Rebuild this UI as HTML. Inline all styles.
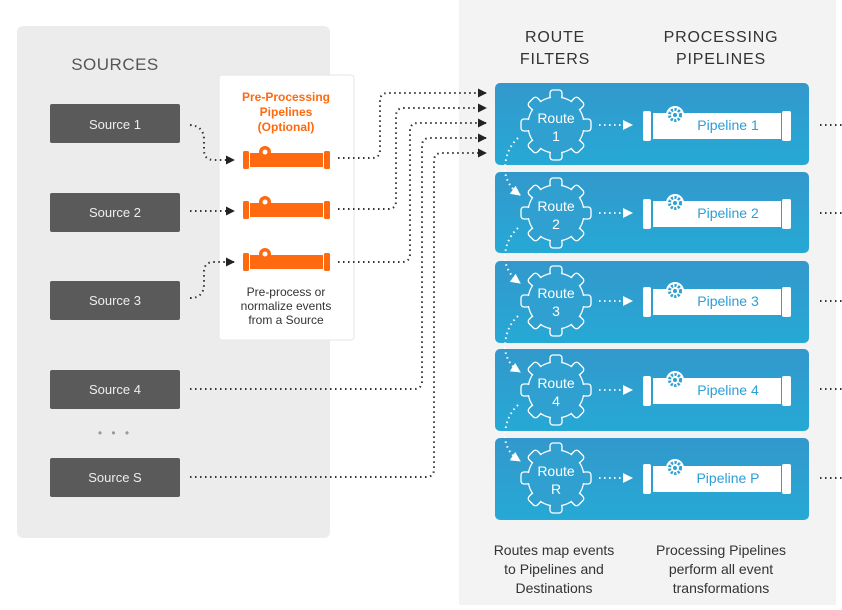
<!DOCTYPE html>
<html><head><meta charset="utf-8"><style>
html,body{margin:0;padding:0;background:#fff;}
body{width:842px;height:605px;overflow:hidden;position:relative;font-family:"Liberation Sans",sans-serif;}
</style></head><body>
<svg width="842" height="605" viewBox="0 0 842 605" xmlns="http://www.w3.org/2000/svg" font-family="Liberation Sans, sans-serif">
<defs>
<linearGradient id="bl" x1="0" y1="0" x2="0" y2="1"><stop offset="0" stop-color="#3398cc"/><stop offset="1" stop-color="#26a9d5"/></linearGradient>
<marker id="ab" viewBox="0 0 10 10" refX="9" refY="5" markerWidth="9" markerHeight="9" markerUnits="userSpaceOnUse" orient="auto"><path d="M0,0L10,5L0,10z" fill="#222"/></marker>
<marker id="aw" viewBox="0 0 10 10" refX="9" refY="5" markerWidth="10" markerHeight="10" markerUnits="userSpaceOnUse" orient="auto"><path d="M0,0L10,5L0,10z" fill="#fff"/></marker>
<g id="gear">
  <g fill="#2fa0d0" stroke="#fff" stroke-width="1.3">
    <rect x="-6" y="-35" width="12" height="12" rx="3"/>
    <rect x="-6" y="-35" width="12" height="12" rx="3" transform="rotate(45)"/>
    <rect x="-6" y="-35" width="12" height="12" rx="3" transform="rotate(90)"/>
    <rect x="-6" y="-35" width="12" height="12" rx="3" transform="rotate(135)"/>
    <rect x="-6" y="-35" width="12" height="12" rx="3" transform="rotate(180)"/>
    <rect x="-6" y="-35" width="12" height="12" rx="3" transform="rotate(225)"/>
    <rect x="-6" y="-35" width="12" height="12" rx="3" transform="rotate(270)"/>
    <rect x="-6" y="-35" width="12" height="12" rx="3" transform="rotate(315)"/>
  </g>
  <circle r="28" fill="#2fa0d0" stroke="#fff" stroke-width="1.3"/>
  <g fill="#2fa0d0"><rect x="-5" y="-30" width="10" height="6"/><rect x="-5" y="-30" width="10" height="6" transform="rotate(45)"/><rect x="-5" y="-30" width="10" height="6" transform="rotate(90)"/><rect x="-5" y="-30" width="10" height="6" transform="rotate(135)"/><rect x="-5" y="-30" width="10" height="6" transform="rotate(180)"/><rect x="-5" y="-30" width="10" height="6" transform="rotate(225)"/><rect x="-5" y="-30" width="10" height="6" transform="rotate(270)"/><rect x="-5" y="-30" width="10" height="6" transform="rotate(315)"/></g>
</g>
<g id="pipe">
  <rect x="643" y="-14" width="8" height="30" rx="2" fill="#fff"/>
  <rect x="782" y="-14" width="9" height="30" rx="2" fill="#fff"/>
  <rect x="653" y="-12" width="128" height="26" fill="#fff"/>
  <circle cx="675" cy="-10" r="9" fill="#fff"/>
  <circle cx="675" cy="-10" r="5.5" fill="none" stroke="#2fa0d0" stroke-width="3" stroke-dasharray="2.2 1.4"/>
  <circle cx="675" cy="-10" r="2" fill="#2fa0d0"/>
</g>
<g id="opipe">
  <rect x="243" y="-9" width="6" height="18" rx="1.5" fill="#ff6a10"/>
  <rect x="324" y="-9" width="6" height="18" rx="1.5" fill="#ff6a10"/>
  <rect x="250" y="-7" width="73" height="14" fill="#ff6a10"/>
  <circle cx="265" cy="-8" r="6" fill="#ff6a10"/>
  <circle cx="265" cy="-8" r="2.5" fill="#fff"/>
</g>
</defs>

<rect x="17" y="26" width="313" height="512" rx="6" fill="#ececec"/>
<rect x="459" y="0" width="377" height="605" fill="#f3f3f3"/>
<rect x="219" y="75" width="135" height="265" rx="3" fill="#fff" stroke="#e6e6e6"/>

<text x="646" y="-4" text-anchor="middle" font-size="24" font-weight="bold" fill="#2b9fd6" letter-spacing="2">ROUTES</text>
<text x="115" y="70" text-anchor="middle" font-size="17" fill="#555" letter-spacing="0.5">SOURCES</text>
<g font-size="16" fill="#333" text-anchor="middle" letter-spacing="0.8">
<text x="555" y="42">ROUTE</text><text x="555" y="64">FILTERS</text>
<text x="721" y="42">PROCESSING</text><text x="721" y="64">PIPELINES</text>
</g>

<g fill="#5a5a5a">
<rect x="50" y="104" width="130" height="39" rx="2"/>
<rect x="50" y="193" width="130" height="39" rx="2"/>
<rect x="50" y="281" width="130" height="39" rx="2"/>
<rect x="50" y="370" width="130" height="39" rx="2"/>
<rect x="50" y="458" width="130" height="39" rx="2"/>
</g>
<g fill="#eee" font-size="13" text-anchor="middle">
<text x="115" y="129">Source 1</text><text x="115" y="217">Source 2</text><text x="115" y="305">Source 3</text><text x="115" y="394">Source 4</text><text x="115" y="482">Source S</text>
</g>
<text x="115" y="437" text-anchor="middle" font-size="12" fill="#999" letter-spacing="3">• • •</text>

<g fill="#ff6a10" font-size="12" font-weight="bold" text-anchor="middle">
<text x="286" y="101">Pre-Processing</text><text x="286" y="116">Pipelines</text><text x="286" y="131">(Optional)</text>
</g>
<use href="#opipe" transform="translate(0,160)"/>
<use href="#opipe" transform="translate(0,210)"/>
<use href="#opipe" transform="translate(0,262)"/>
<g fill="#333" font-size="12" text-anchor="middle">
<text x="286" y="296">Pre-process or</text><text x="286" y="310">normalize events</text><text x="286" y="324">from a Source</text>
</g>

<g fill="none" stroke="#333" stroke-width="2" stroke-dasharray="1.5 3.5">
<path d="M190,125 Q204,126 204,140 L204,150 Q204,160 214,160 L234,160" marker-end="url(#ab)"/>
<path d="M190,211 L234,211" marker-end="url(#ab)"/>
<path d="M190,298 Q204,298 204,284 L204,272 Q204,262 214,262 L234,262" marker-end="url(#ab)"/>
<path d="M338,158 L372,158 Q380,158 380,150 L380,101 Q380,93 388,93 L486,93" marker-end="url(#ab)"/>
<path d="M338,209 L388,209 Q396,209 396,201 L396,116 Q396,108 404,108 L486,108" marker-end="url(#ab)"/>
<path d="M338,262 L402,262 Q410,262 410,254 L410,131 Q410,123 418,123 L486,123" marker-end="url(#ab)"/>
<path d="M190,389 L414,389 Q422,389 422,381 L422,146 Q422,138 430,138 L486,138" marker-end="url(#ab)"/>
<path d="M190,477 L426,477 Q434,477 434,469 L434,161 Q434,153 442,153 L486,153" marker-end="url(#ab)"/>
<path d="M820,125 L842,125 M820,213 L842,213 M820,301 L842,301 M820,389 L842,389 M820,478 L842,478"/>
</g>

<g fill="url(#bl)">
<rect x="495" y="83" width="314" height="82" rx="5"/>
<rect x="495" y="172" width="314" height="81" rx="5"/>
<rect x="495" y="261" width="314" height="82" rx="5"/>
<rect x="495" y="349" width="314" height="82" rx="5"/>
<rect x="495" y="438" width="314" height="82" rx="5"/>
</g>

<use href="#gear" transform="translate(556,125)"/>
<use href="#gear" transform="translate(556,213)"/>
<use href="#gear" transform="translate(556,301)"/>
<use href="#gear" transform="translate(556,390)"/>
<use href="#gear" transform="translate(556,478)"/>
<use href="#pipe" transform="translate(0,125)"/>
<use href="#pipe" transform="translate(0,213)"/>
<use href="#pipe" transform="translate(0,301)"/>
<use href="#pipe" transform="translate(0,390)"/>
<use href="#pipe" transform="translate(0,478)"/>

<g fill="#fff" font-size="14" text-anchor="middle">
<text x="556" y="123">Route</text><text x="556" y="141">1</text>
<text x="556" y="211">Route</text><text x="556" y="229">2</text>
<text x="556" y="298">Route</text><text x="556" y="316">3</text>
<text x="556" y="388">Route</text><text x="556" y="406">4</text>
<text x="556" y="476">Route</text><text x="556" y="494">R</text>
</g>
<g fill="#2b9fd6" font-size="14" text-anchor="middle">
<text x="728" y="130">Pipeline 1</text><text x="728" y="218">Pipeline 2</text><text x="728" y="306">Pipeline 3</text><text x="728" y="395">Pipeline 4</text><text x="728" y="483">Pipeline P</text>
</g>

<g fill="none" stroke="#fff" stroke-width="2" stroke-dasharray="1.5 3.5">
<path d="M599,125 L632,125" marker-end="url(#aw)"/>
<path d="M599,213 L632,213" marker-end="url(#aw)"/>
<path d="M599,301 L632,301" marker-end="url(#aw)"/>
<path d="M599,390 L632,390" marker-end="url(#aw)"/>
<path d="M599,478 L632,478" marker-end="url(#aw)"/>
<path d="M518,138 Q505,150 505,170 Q506,185 520,195" marker-end="url(#aw)"/>
<path d="M518,228 Q505,240 505,258 Q506,273 520,283" marker-end="url(#aw)"/>
<path d="M518,316 Q505,328 505,348 Q506,363 520,372" marker-end="url(#aw)"/>
<path d="M518,405 Q505,417 505,437 Q506,452 520,461" marker-end="url(#aw)"/>
</g>

<g fill="#333" font-size="14" text-anchor="middle">
<text x="554" y="555">Routes map events</text><text x="554" y="574">to Pipelines and</text><text x="554" y="593">Destinations</text>
<text x="721" y="555">Processing Pipelines</text><text x="721" y="574">perform all event</text><text x="721" y="593">transformations</text>
</g>
</svg>
</body></html>
